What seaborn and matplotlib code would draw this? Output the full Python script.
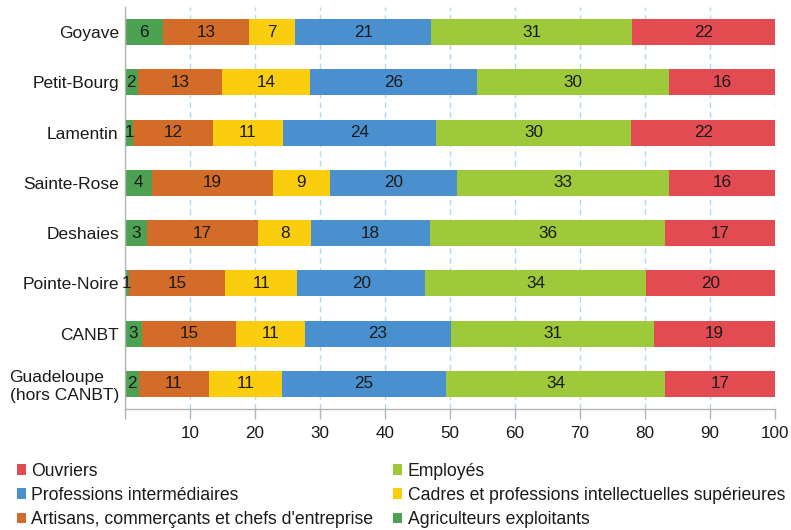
import matplotlib
matplotlib.use("Agg")
import matplotlib.pyplot as plt
from matplotlib.patches import Patch
import seaborn as sns
import pandas as pd
import numpy as np

communes = ["Goyave", "Petit-Bourg", "Lamentin", "Sainte-Rose", "Deshaies",
            "Pointe-Noire", "CANBT", "Guadeloupe\n(hors CANBT)"]

series_names = ["Agriculteurs exploitants",
                "Artisans, commerçants et chefs d'entreprise",
                "Cadres et professions intellectuelles supérieures",
                "Professions intermédiaires",
                "Employés",
                "Ouvriers"]

agriculteurs = [5.9, 1.95, 1.3, 4.2, 3.4, 0.6, 2.55, 2.15]
artisans     = [13.2, 12.95, 12.2, 18.6, 17.1, 14.8, 14.55, 10.75]
cadres       = [7.1, 13.6, 10.8, 8.7, 8.1, 11.1, 10.55, 11.25]
prof_inter   = [20.9, 25.6, 23.6, 19.6, 18.3, 19.7, 22.55, 25.25]
employes     = [30.9, 29.6, 30.0, 32.6, 36.2, 34.0, 31.2, 33.7]
ouvriers     = [22.0, 16.3, 22.1, 16.3, 16.9, 19.8, 18.6, 16.9]

colors = ["#4da153", "#d36b29", "#fbcd0f", "#4a90ce", "#9dc93b", "#e34b52"]

xticks = [0, 10, 20, 30, 40, 50, 60, 70, 80, 90, 100]
xticklabels = ["", "10", "20", "30", "40", "50", "60", "70", "80", "90", "100"]

series = [agriculteurs, artisans, cadres, prof_inter, employes, ouvriers]

sns.set_style("white")
plt.rcParams["font.family"] = ["Liberation Sans", "DejaVu Sans"]

fig = plt.figure(figsize=(7.91, 5.30), dpi=100)
ax = fig.add_axes([125 / 791, (530 - 409) / 530, 650 / 791, 402 / 530])

vals = np.array(series, dtype=float)
cums = np.cumsum(vals, axis=0)
lefts = cums - vals

# draw cumulative layers from the longest to the shortest
for k in range(len(series) - 1, -1, -1):
    df = pd.DataFrame({"commune": communes, "value": cums[k]})
    sns.barplot(data=df, x="value", y="commune", orient="h", color=colors[k],
                saturation=1, width=0.52, errorbar=None, ax=ax, zorder=2,
                linewidth=0)

# value labels
for k in range(len(series)):
    for i in range(len(communes)):
        v = vals[k, i]
        ax.text(lefts[k, i] + v / 2, i, f"{v:.0f}", ha="center", va="center",
                fontsize=12.3, color="#1a1a1a", zorder=3)

ax.set_xlim(0, 100)
ax.set_ylim(len(communes) - 0.5, -0.5)
ax.set_xticks(xticks)
ax.set_xticklabels(xticklabels)
ax.set_xlabel("")
ax.set_ylabel("")

ax.set_axisbelow(True)
ax.xaxis.grid(True, linestyle=(0, (4, 3)), color="#b0d8f0", linewidth=1)
ax.yaxis.grid(False)

for s in ["top", "right"]:
    ax.spines[s].set_visible(False)
for s in ["left", "bottom"]:
    ax.spines[s].set_visible(True)
    ax.spines[s].set_color("#b3b3b3")
    ax.spines[s].set_linewidth(1)

ax.tick_params(axis="x", length=7, width=1, color="#b3b3b3", pad=5,
               labelsize=12.3, labelcolor="#1a1a1a", bottom=True)
ax.tick_params(axis="y", length=0, pad=4.5, labelsize=12.5, labelcolor="#1a1a1a")
for lbl in ax.get_yticklabels():
    lbl.set_multialignment("left")

# legend
order = [5, 3, 1, 4, 2, 0]
handles = [Patch(facecolor=colors[k], edgecolor="none") for k in order]
labels = [series_names[k] for k in order]
fig.legend(handles, labels, ncol=2, loc="upper left",
           bbox_to_anchor=(16.5 / 791, 1 - 463 / 530), frameon=False,
           fontsize=12.7, handlelength=0.56, handleheight=0.56,
           handletextpad=0.29, columnspacing=1.08, labelspacing=0.4,
           borderpad=0, borderaxespad=0, labelcolor="#1a1a1a")

fig.savefig("out.png", dpi=100)
